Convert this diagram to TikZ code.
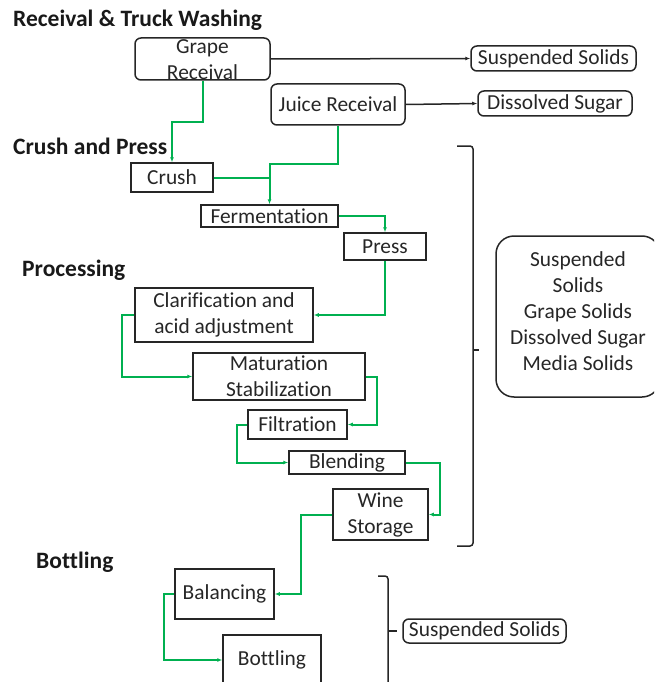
\documentclass[tikz,border=0pt]{standalone}
\usepackage{fontspec}
\setmainfont{Carlito}[Ligatures=NoCommon]
\usetikzlibrary{arrows.meta}
\definecolor{flow}{RGB}{0,176,80}
\begin{document}
\begin{tikzpicture}[x=1pt,y=-1pt,
 box/.style={draw=black!85, line width=1.5pt, inner sep=0pt, font=\fontsize{21.4}{25}\selectfont, text=black!85},
 rbox/.style={box, rounded corners=6pt},
 plain/.style={inner sep=0pt, font=\fontsize{21.4}{26}\selectfont, text=black!85, align=center},
 head/.style={font=\bfseries\fontsize{23.5}{26}\selectfont, anchor=west, inner sep=0pt, text=black!90},
 flowline/.style={draw=flow, line width=2pt, -{Latex[length=5pt,width=4pt]}},
 outline/.style={draw=black!85, line width=1.5pt, -{Latex[length=5pt,width=4pt]}},
 brk/.style={draw=black!85, line width=1.5pt, rounded corners=3pt}]
\useasboundingbox (0,0) rectangle (654,682);
\clip (0,0) rectangle (654,682);

% headings
\node[head] (h1) at (13,20) {Receival \& Truck Washing};
\node[head] (h2) at (13,146) {Crush and Press};
\node[head] (h3) at (22,270) {Processing};
\node[head] (h4) at (36,562) {Bottling};

% boxes
\node[rbox, minimum width=135pt, minimum height=42pt] (gr) at (202.5,59) {};
\node[plain] (grt) at (202.5,60) {Grape\\Receival};
\node[rbox, minimum width=165pt, minimum height=25pt] (ss1) at (553.5,58.5) {Suspended Solids};
\node[rbox, minimum width=134pt, minimum height=41pt] (jr) at (338,104.5) {Juice Receival};
\node[rbox, minimum width=154pt, minimum height=25pt] (ds) at (555,103.5) {Dissolved Sugar};
\node[box, minimum width=82pt, minimum height=29pt] (cr) at (172,177.5) {Crush};
\node[box, minimum width=137pt, minimum height=22pt] (fe) at (269.5,216) {Fermentation};
\node[box, minimum width=82pt, minimum height=27pt] (pr) at (385,246.5) {Press};
\node[box, minimum width=178pt, minimum height=54pt, align=center, font=\fontsize{21.4}{26}\selectfont] (cl) at (224,315) {Clarification and\\acid adjustment};
\node[box, minimum width=172pt, minimum height=47pt, align=center, font=\fontsize{21.4}{26}\selectfont] (ma) at (279,376.5) {Maturation\\Stabilization};
\node[box, minimum width=99pt, minimum height=29pt] (fi) at (297.5,424.5) {Filtration};
\node[box, minimum width=116pt, minimum height=23pt] (bl) at (347,462.5) {Blending};
\node[box, minimum width=95pt, minimum height=51pt, align=center, font=\fontsize{21.4}{26}\selectfont] (ws) at (380.5,514.5) {Wine\\Storage};
\node[box, minimum width=99pt, minimum height=50pt] (ba) at (224.5,594) {Balancing};
\node[box, minimum width=98pt, minimum height=50pt] (bo) at (272,660) {Bottling};
\node[rbox, minimum width=163pt, minimum height=24pt] (ss2) at (484.5,631) {Suspended Solids};
\node[rbox, rounded corners=18pt, minimum width=164pt, minimum height=161pt] (big) at (578,316.5) {};
\node[plain] (bigt) at (578,311) {Suspended\\Solids\\Grape Solids\\Dissolved Sugar\\Media Solids};

% black arrows
\draw[outline] (gr.east) -- (ss1.west);
\draw[outline] (jr.east) -- (ds.west);

% green flow
\draw[flowline] (gr.south) -- (gr.south |- 0,122) -| (cr.north);
\draw[flowline] (jr.south) -- (jr.south |- 0,164) -| (fe.north);
\draw[draw=flow, line width=2pt] (cr.east) -- (cr.east -| fe.north);
\draw[flowline] (fe.east) -| (pr.north);
\draw[flowline] (pr.south) |- (cl.east);
\draw[flowline] (cl.west) -- ++(-12,0) |- (ma.west);
\draw[flowline] (ma.east) -- ++(11,0) |- (fi.east);
\draw[flowline] (fi.west) -- ++(-10,0) |- (bl.west);
\draw[flowline] (bl.east) -- ++(34,0) |- (ws.east);
\draw[flowline] (ws.west) -- ++(-31,0) |- (ba.east);
\draw[flowline] (ba.west) -- ++(-10,0) |- (bo.west);

% brackets
\draw[brk] (457,146) -- (473,146) -- (473,546) -- (457,546);
\draw[brk] (473,350) -- (479,350);
\draw[brk] (378,576) -- (388,576) -- (388,690);
\draw[brk] (388,631) -- (397,631);
\end{tikzpicture}
\end{document}
